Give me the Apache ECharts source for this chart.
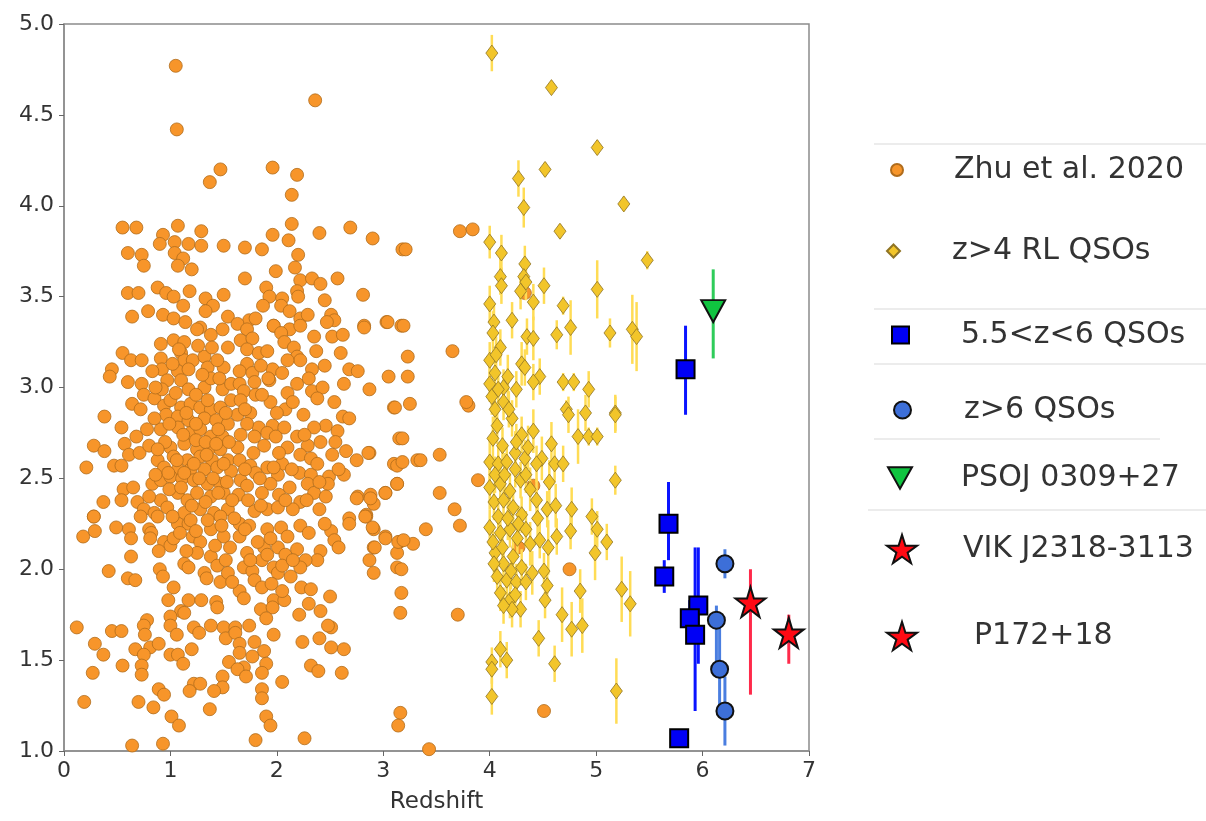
<!DOCTYPE html>
<html lang="en">
<head>
    <meta charset="UTF-8">
    <title>Redshift scatter</title>
    <script src="https://cdn.jsdelivr.net/npm/echarts@6.0.0/dist/echarts.min.js"></script>
    <style>
        html, body { margin: 0; padding: 0; background: #fff; }
        #main { width: 1206px; height: 821px; }
    </style>
</head>
<body>
<div id="main"></div>
<script>
// Zhu et al. 2020 sample: [redshift, value]
var zhuPoints = [
    [1.05,4.77],[1.06,4.42],[2.36,4.58],
    [1.47,4.20],[1.37,4.13],[0.55,3.88],[0.68,3.88],[1.07,3.89],[1.29,3.86],[0.93,3.84],[0.90,3.79],[1.04,3.80],[1.17,3.79],[1.29,3.78],[1.50,3.78],
    [0.60,3.74],[0.73,3.73],[1.04,3.74],[1.12,3.71],[0.75,3.67],[1.07,3.67],[1.20,3.65],[0.60,3.52],[0.70,3.52],[0.88,3.55],[0.96,3.52],[1.03,3.50],
    [1.18,3.53],[1.33,3.49],[1.40,3.45],[1.50,3.51],[1.12,3.45],[1.33,3.42],[0.64,3.39],[0.79,3.42],[0.93,3.40],[1.03,3.38],[1.14,3.36],[1.28,3.33],[1.54,3.39],
    [1.96,4.21],[2.19,4.17],[2.14,4.06],[2.14,3.90],[1.96,3.84],[2.40,3.85],[2.69,3.88],[2.90,3.82],[2.11,3.81],[1.70,3.77],[1.86,3.76],[3.18,3.76],
    [2.20,3.73],[2.17,3.66],[1.99,3.64],[1.70,3.60],[2.22,3.59],[2.33,3.60],[2.41,3.57],[2.57,3.60],[1.90,3.55],[1.93,3.50],[2.05,3.49],[2.19,3.53],
    [2.20,3.50],[2.45,3.48],[2.81,3.51],[1.87,3.45],[2.04,3.45],[1.74,3.37],[1.97,3.34],[2.22,3.38],[2.29,3.40],[2.51,3.40],[2.54,3.37],[2.82,3.34],
    [3.03,3.36],[3.17,3.34],[1.63,3.35],
    [0.55,3.19],[0.63,3.15],[0.73,3.15],[0.45,3.10],[0.43,3.06],[0.60,3.03],[0.73,3.02],[0.91,3.24],[1.03,3.26],[1.13,3.25],[1.25,3.32],[1.38,3.29],
    [1.49,3.32],[0.91,3.16],[1.10,3.19],[1.13,3.15],[1.21,3.15],[1.32,3.17],[1.39,3.22],[1.54,3.22],[0.92,3.10],[1.07,3.09],[1.17,3.10],[1.35,3.11],
    [1.50,3.11],[0.97,3.04],[1.10,3.04],[1.17,2.99],[1.32,3.00],[1.38,3.05],[1.49,2.99],[1.57,3.02],[0.75,2.96],[0.64,2.91],[0.72,2.88],[0.85,2.94],
    [0.92,2.99],[0.94,2.90],[1.00,2.93],[1.10,2.89],[1.19,2.91],[1.28,2.89],[1.38,2.88],[1.47,2.89],[1.57,2.93],[0.38,2.84],[0.54,2.78],[0.96,2.85],
    [1.07,2.84],[1.17,2.82],[1.32,2.83],[1.43,2.82],[1.54,2.80],[0.91,2.77],[1.07,2.78],[1.19,2.75],[1.28,2.77],[1.38,2.73],[1.49,2.73],[0.68,2.73],
    [0.28,2.68],[0.38,2.65],[0.57,2.69],[0.61,2.63],[0.71,2.64],[0.80,2.68],[0.88,2.60],[1.00,2.67],[1.13,2.69],[1.25,2.66],[1.38,2.67],[1.47,2.66],
    [1.03,2.62],[1.16,2.60],[1.28,2.62],[1.39,2.60],[1.54,2.60],[0.21,2.56],[0.47,2.57],[0.54,2.57],[0.94,2.56],[1.07,2.55],[1.19,2.55],[1.32,2.55],
    [1.44,2.56],[1.57,2.54],[0.83,2.47],[0.91,2.49],[1.00,2.51],[1.11,2.50],[1.22,2.49],[1.35,2.47],[1.47,2.47],[0.56,2.44],[0.65,2.45],[0.37,2.37],
    [0.54,2.38],[0.69,2.37],[0.75,2.33],[0.28,2.29],[0.91,2.38],[0.97,2.34],[1.07,2.42],[1.16,2.38],[1.25,2.42],[1.38,2.40],[1.50,2.42],[0.85,2.31],
    [1.13,2.31],[1.28,2.33],[1.41,2.31],[1.54,2.33],
    [1.97,3.34],[2.12,3.32],[2.22,3.34],[2.47,3.36],[2.82,3.33],[3.04,3.36],[1.72,3.32],[1.66,3.26],[1.77,3.27],[2.04,3.30],[2.07,3.25],[2.52,3.28],
    [2.62,3.29],[1.72,3.21],[1.83,3.19],[1.91,3.20],[2.16,3.22],[2.19,3.17],[2.22,3.15],[2.37,3.20],[2.60,3.19],[1.72,3.13],[1.65,3.09],[1.77,3.08],
    [1.96,3.10],[1.93,3.04],[2.33,3.10],[2.68,3.10],[2.76,3.09],[3.05,3.06],[1.65,3.02],[1.79,3.03],[2.19,3.02],[2.63,3.02],[1.69,2.98],[1.80,2.96],
    [2.10,2.97],[2.33,2.98],[2.43,3.00],[2.38,2.94],[2.54,2.92],[2.87,2.99],[1.94,2.92],[1.66,2.93],[2.08,2.88],[3.10,2.89],[1.63,2.85],[1.75,2.86],
    [1.83,2.78],[1.96,2.79],[2.07,2.78],[2.62,2.84],[2.68,2.83],[2.46,2.79],[1.72,2.80],[1.66,2.74],[1.79,2.73],[1.91,2.75],[1.99,2.73],[2.19,2.73],
    [2.29,2.68],[2.41,2.70],[2.57,2.76],[2.55,2.70],[3.15,2.72],[2.10,2.67],[1.63,2.67],[1.65,2.60],[1.75,2.57],[1.91,2.56],[2.05,2.58],[2.22,2.63],
    [2.32,2.61],[2.52,2.63],[2.87,2.64],[3.10,2.58],[1.80,2.53],[2.01,2.52],[2.21,2.53],[2.32,2.52],[2.49,2.51],[2.63,2.52],[1.66,2.49],[1.94,2.47],
    [2.29,2.47],[2.48,2.47],[1.72,2.46],[3.13,2.47],[1.64,2.41],[1.86,2.42],[2.02,2.41],[2.22,2.37],[2.35,2.42],[2.76,2.40],[2.88,2.41],[2.91,2.36],
    [3.02,2.42],[1.79,2.32],[1.91,2.33],[2.01,2.34],[2.15,2.33],[2.40,2.33],[2.68,2.28],[2.84,2.30],
    [0.28,2.29],[0.18,2.18],[0.29,2.21],[0.49,2.23],[0.61,2.22],[0.63,2.17],[0.72,2.29],[0.80,2.22],[0.82,2.20],[0.81,2.17],[0.88,2.29],[0.94,2.15],
    [1.00,2.13],[1.07,2.25],[1.17,2.25],[1.21,2.18],[1.28,2.15],[1.38,2.22],[1.47,2.29],[1.50,2.18],[1.03,2.17],[0.63,2.07],[0.42,1.99],[0.60,1.95],
    [0.67,1.94],[0.90,2.00],[0.93,1.96],[1.03,1.90],[0.98,1.83],[1.13,2.03],[1.17,2.01],[1.32,1.98],[1.38,2.07],[1.44,2.02],[1.47,1.93],[1.54,1.98],
    [1.25,2.09],[1.17,1.83],[1.29,1.83],[1.43,1.82],[1.44,1.79],[1.10,1.77],[1.13,1.76],[1.00,1.74],[1.00,1.69],[0.78,1.72],[0.75,1.69],[0.76,1.64],
    [0.12,1.68],[0.45,1.66],[0.54,1.66],[1.06,1.64],[1.22,1.68],[1.27,1.65],[1.38,1.69],[1.50,1.68],[1.52,1.62],[0.29,1.59],[0.37,1.53],[0.67,1.56],
    [0.81,1.57],[0.89,1.59],[0.75,1.53],[0.73,1.47],[0.55,1.47],[0.27,1.43],[0.73,1.42],[1.00,1.53],[1.07,1.53],[1.12,1.48],[1.20,1.56],[1.55,1.49],
    [1.49,1.41],[1.49,1.35],[1.41,1.33],[1.22,1.37],[1.28,1.37],[1.18,1.33],[0.89,1.34],[0.94,1.31],[0.70,1.27],[0.84,1.24],[0.19,1.27],[1.37,1.23],
    [1.01,1.19],[1.08,1.14],[0.64,1.03],[0.93,1.04],
    [2.68,2.25],[2.84,2.29],[2.51,2.21],[2.54,2.16],[2.58,2.12],[2.91,2.22],[3.02,2.18],[3.15,2.15],[2.91,2.12],[2.87,2.05],[2.91,1.98],[3.13,2.09],
    [3.13,2.01],[3.17,1.87],[3.16,1.76],[1.65,2.25],[1.74,2.24],[1.65,2.18],[1.91,2.22],[2.04,2.23],[2.22,2.24],[1.88,2.12],[2.01,2.12],[2.08,2.08],
    [2.19,2.11],[2.41,2.10],[2.38,2.05],[2.27,2.05],[2.22,2.01],[1.72,2.09],[1.86,2.05],[1.97,2.01],[2.01,1.98],[2.13,1.96],[1.69,2.01],[1.77,1.99],
    [1.79,1.94],[1.86,1.90],[1.65,1.88],[1.69,1.84],[2.23,1.90],[2.32,1.89],[2.50,1.85],[1.97,1.83],[2.07,1.83],[1.85,1.78],[1.96,1.79],[1.90,1.73],
    [2.30,1.81],[2.41,1.77],[2.21,1.75],[1.74,1.69],[1.61,1.68],[2.51,1.68],[2.48,1.69],[1.97,1.64],[1.61,1.65],[1.65,1.59],[1.79,1.60],[1.88,1.55],
    [1.65,1.54],[1.77,1.52],[1.90,1.48],[1.69,1.46],[1.63,1.45],[1.71,1.41],[1.86,1.43],[2.24,1.60],[2.40,1.62],[2.51,1.57],[2.63,1.56],[2.32,1.47],
    [2.39,1.44],[2.61,1.43],[2.05,1.38],[1.86,1.34],[1.86,1.29],[1.90,1.19],[1.94,1.14],[1.80,1.06],[2.26,1.07],[3.16,1.21],[3.14,1.14],
    [3.11,2.89],[3.25,2.91],[2.86,2.64],[3.02,2.42],[3.13,2.57],[3.13,2.47],[3.32,2.60],[3.28,2.14],[3.14,2.15],[3.17,2.00],[3.02,2.17],[2.92,2.12],
    [2.90,2.23],[2.83,2.29],[2.75,2.39],[2.88,2.39],
    [3.18,2.72],[3.35,2.60],[3.53,2.63],[3.18,2.59],[3.89,2.49],[3.53,2.42],[3.67,2.33],[3.72,2.24],[3.40,2.22],[3.19,2.16],[3.70,1.75],[4.75,2.00],
    [4.27,2.12],[4.41,2.46],[4.51,1.22],[3.43,1.01],[3.80,2.90],
    [3.72,3.86],[3.84,3.87],[3.21,3.76],[3.19,3.34],[3.65,3.20],[3.23,3.17],[3.23,3.06],[3.78,2.92],[4.33,3.52],
    // overlapping points in the dense core
    [1.02,3.13],[1.08,3.21],[1.26,3.23],[1.30,3.07],[1.44,3.15],[1.46,3.05],[1.24,2.96],[1.05,2.97],[0.83,3.09],[0.86,3.00],[1.15,2.86],[1.24,2.80],
    [1.35,2.93],[1.52,2.86],[1.45,2.77],[0.99,2.80],[0.85,2.83],[0.78,2.77],[1.12,2.74],[1.24,2.71],[1.33,2.70],[1.43,2.69],[1.55,2.70],[0.95,2.70],
    [0.88,2.66],[1.06,2.60],[1.22,2.58],[1.34,2.63],[1.50,2.58],[0.98,2.53],[1.13,2.53],[1.27,2.50],[1.40,2.50],[1.53,2.48],[0.86,2.52],[0.80,2.40],
    [0.99,2.44],[1.10,2.45],[1.20,2.35],[1.33,2.37],[1.45,2.42],[1.58,2.38],[1.02,2.29],[1.19,2.27],[1.35,2.27],[1.48,2.24],[1.60,2.28],[1.09,2.20],
    [1.24,2.21],[1.42,2.13],[1.56,2.12],[1.15,2.10],[0.89,2.10],[1.34,1.95],[1.58,1.93],[1.52,2.05],
    [1.70,2.88],[1.86,2.96],[2.00,2.86],[2.15,2.92],[2.25,2.85],[2.35,2.78],[1.78,2.64],[1.88,2.68],[2.02,2.64],[2.14,2.55],[2.26,2.74],[2.38,2.58],
    [1.70,2.55],[1.84,2.50],[1.97,2.56],[2.12,2.45],[2.40,2.48],[1.73,2.38],[1.85,2.35],[2.08,2.38],[2.28,2.38],[2.46,2.40],[1.70,2.22],[1.82,2.15],
    [1.94,2.17],[2.10,2.18],[2.30,2.20],[2.45,2.25],[1.75,2.05],[1.91,2.08],[2.05,2.02],[2.15,2.05],[1.95,1.92],[2.05,1.88],[1.92,3.05],[2.05,3.08],
    [2.30,3.05],[2.45,3.12],[1.85,3.12],[2.10,3.15],[1.80,3.38],[2.12,3.42],[2.35,3.28],[2.65,2.65],[2.58,2.55],[2.75,2.60]
];

// z>4 radio-loud QSOs: [redshift, value, error]
var rlPoints = [
    [4.02,4.84,0.10],[4.58,4.65,0.03],[5.01,4.32,0.04],[4.52,4.20,0.04],[4.27,4.15,0.10],[4.32,3.99,0.11],[5.26,4.01,0.04],[4.66,3.86,0.04],
    [4.00,3.80,0.09],[4.11,3.74,0.10],[4.33,3.68,0.10],[5.48,3.70,0.05],[4.10,3.61,0.10],[4.11,3.56,0.10],[4.32,3.61,0.10],[4.34,3.58,0.10],
    [4.29,3.53,0.10],[4.51,3.56,0.10],[4.41,3.47,0.10],[5.01,3.54,0.16],[4.00,3.46,0.10],[4.69,3.45,0.05],[4.04,3.36,0.10],[4.21,3.37,0.10],
    [4.76,3.33,0.15],[4.63,3.29,0.08],[5.13,3.30,0.08],[5.34,3.32,0.19],[5.38,3.28,0.19],[4.35,3.28,0.10],[4.41,3.27,0.12],[4.03,3.30,0.12],
    [4.10,3.22,0.10],[4.00,3.15,0.10],[4.30,3.13,0.12],[4.33,3.11,0.10],[4.05,3.08,0.10],[4.47,3.06,0.10],[4.69,3.03,0.05],[4.79,3.03,0.05],
    [4.93,2.99,0.10],[4.25,2.99,0.10],[4.41,3.03,0.10],[4.00,3.02,0.10],[4.13,3.00,0.10],[4.02,2.95,0.10],[4.13,2.92,0.10],[4.05,2.88,0.10],
    [4.72,2.88,0.05],[5.18,2.86,0.10],
    [4.07,2.79,0.10],[4.21,2.83,0.10],[4.41,2.76,0.12],[4.30,2.74,0.10],[4.58,2.69,0.12],[4.74,2.85,0.10],[4.90,2.86,0.10],[5.18,2.85,0.10],
    [4.83,2.73,0.15],[4.93,2.73,0.05],[5.01,2.73,0.05],[4.49,2.61,0.12],[4.61,2.58,0.10],[4.69,2.58,0.10],[4.00,2.59,0.12],[4.08,2.58,0.10],
    [4.16,2.59,0.10],[4.24,2.64,0.12],[4.33,2.61,0.10],[5.18,2.49,0.08],[4.00,2.45,0.12],[4.10,2.47,0.10],[4.19,2.43,0.10],[4.29,2.49,0.10],
    [4.38,2.44,0.12],[4.44,2.38,0.12],[4.54,2.33,0.10],[4.04,2.37,0.10],[4.13,2.38,0.10],[4.22,2.34,0.10],[4.30,2.30,0.10],[4.77,2.33,0.12],
    [4.76,2.21,0.10],[4.96,2.29,0.10],[5.01,2.22,0.10],[4.00,2.23,0.10],[4.10,2.20,0.10],[4.19,2.22,0.10],[4.27,2.25,0.10],[4.38,2.14,0.12],
    [4.47,2.16,0.10],[4.55,2.12,0.15],[4.63,2.18,0.10],[5.10,2.15,0.10],[4.99,2.09,0.15],[4.05,2.09,0.10],[4.13,2.03,0.10],[4.22,2.07,0.10],
    [4.30,2.01,0.10],[4.51,1.99,0.10],[4.07,1.96,0.10],[4.16,1.94,0.10],[4.25,1.93,0.10],[4.54,1.91,0.10],[4.85,1.88,0.12],[5.24,1.89,0.18],
    [5.32,1.81,0.18],[4.10,1.87,0.10],[4.19,1.83,0.10],[4.29,1.78,0.10],[4.52,1.83,0.10],[4.68,1.75,0.15],[4.77,1.67,0.15],[4.87,1.69,0.15],
    [4.21,1.78,0.10],[4.46,1.62,0.10],[4.10,1.56,0.10],[4.02,1.49,0.08],[4.02,1.45,0.08],[4.16,1.50,0.10],[4.61,1.48,0.10],[4.02,1.30,0.10],
    [5.19,1.33,0.18],
    [4.06,3.18,0.10],[4.17,3.06,0.12],[4.08,2.99,0.10],[4.18,2.88,0.10],[4.03,2.72,0.12],[4.12,2.68,0.10],[4.25,2.70,0.10],[4.36,2.67,0.12],
    [4.05,2.52,0.10],[4.14,2.52,0.12],[4.24,2.55,0.10],[4.34,2.52,0.10],[4.08,2.29,0.10],[4.17,2.28,0.12],[4.26,2.17,0.10],[4.34,2.22,0.10],
    [4.03,2.15,0.10],[4.12,2.12,0.10],[4.20,1.99,0.10],[4.34,1.93,0.10],[4.04,2.03,0.10],[4.13,1.80,0.10],[4.24,1.86,0.10],[4.40,1.98,0.12],
    [4.45,2.28,0.10],[4.56,2.48,0.12],[4.62,2.35,0.12],[4.44,2.58,0.10]
];

// [redshift, value, error down, error up]
var midQsos = [
    [5.84,3.10,0.25,0.24],[5.68,2.25,0.20,0.23],[5.64,1.96,0.09,0.09],[5.96,1.80,0.32,0.32],
    [5.88,1.73,0.10,0.10],[5.93,1.64,0.42,0.48],[5.78,1.07,0.0,0.0]
];
var highQsos = [
    [6.21,2.03,0.08,0.08],[6.13,1.72,0.25,0.08],[6.16,1.45,0.25,0.25],[6.21,1.22,0.19,0.19]
];
var psojPoint = [[6.10,3.42,0.26,0.23]];
var vikPoint = [[6.45,1.82,0.51,0.18]];
var p172Point = [[6.81,1.65,0.17,0.10]];

var xTicks = [0, 1, 2, 3, 4, 5, 6, 7];
var yTicks = [1.0, 1.5, 2.0, 2.5, 3.0, 3.5, 4.0, 4.5, 5.0];

var starPath = 'path://M50,0 L61,35 L98,35 L68,57 L79,91 L50,70 L21,91 L32,57 L2,35 L39,35 Z';
var downTriPath = 'path://M0,0 L100,0 L50,90 Z';

function pts(arr) {
    return arr.map(function (d) { return [d[0], d[1]]; });
}
function bars(arr, symmetric) {
    return arr.map(function (d) {
        if (symmetric) return [d[0], d[1] - d[2], d[1] + d[2]];
        return [d[0], d[1] - d[2], d[1] + d[3]];
    });
}
function errSeries(data, color, width, z) {
    return {
        type: 'custom',
        z: z,
        silent: true,
        encode: { x: 0, y: [1, 2] },
        data: data,
        renderItem: function (params, api) {
            var a = api.coord([api.value(0), api.value(1)]);
            var b = api.coord([api.value(0), api.value(2)]);
            return {
                type: 'line',
                shape: { x1: a[0], y1: a[1], x2: b[0], y2: b[1] },
                style: { stroke: color, lineWidth: width }
            };
        }
    };
}

var myChart = echarts.init(document.getElementById('main'), null, { renderer: 'canvas' });

var legendFont = { fontFamily: 'DejaVu Sans', fontSize: 30, color: '#333' };
function legendAt(name, iconLeft, centerY, size, textX, icon) {
    var l = {
        data: [{ name: name }],
        left: iconLeft,
        top: centerY - 18,
        itemWidth: size,
        itemHeight: size,
        selectedMode: false,
        padding: 0,
        textStyle: Object.assign({ padding: [0, 0, 0, textX - (iconLeft + size + 5)], lineHeight: 36 }, legendFont)
    };
    if (icon) l.icon = icon;
    return l;
}

var option = {
    animation: false,
    backgroundColor: '#fff',
    grid: {
        left: 64, right: 397, top: 24, bottom: 70,
        show: true, borderColor: '#8c8c8c', borderWidth: 1.5, backgroundColor: '#fff'
    },
    xAxis: {
        type: 'value', min: 0, max: 7, interval: 1,
        name: 'Redshift', nameLocation: 'middle', nameGap: 40,
        nameTextStyle: { fontFamily: 'DejaVu Sans', fontSize: 23, color: '#333' },
        axisLine: { show: true, lineStyle: { color: '#8c8c8c', width: 1.5 } },
        axisTick: { show: true, length: 5, lineStyle: { color: '#666' } },
        axisLabel: { fontFamily: 'DejaVu Sans', fontSize: 22, color: '#333', margin: 9 },
        splitLine: { show: false }
    },
    yAxis: {
        type: 'value', min: 1, max: 5, interval: 0.5,
        axisLine: { show: true, lineStyle: { color: '#8c8c8c', width: 1.5 } },
        axisTick: { show: true, length: 5, lineStyle: { color: '#666' } },
        axisLabel: {
            fontFamily: 'DejaVu Sans', fontSize: 22, color: '#333', margin: 10,
            formatter: function (v) { return v.toFixed(1); }
        },
        splitLine: { show: false }
    },
    legend: [
        legendAt('Zhu et al. 2020', 890, 170, 12, 953, 'circle'),
        legendAt('z>4 RL QSOs', 886, 251, 13, 951, 'diamond'),
        legendAt('5.5<z<6 QSOs', 891, 335, 17, 960),
        legendAt('z>6 QSOs', 893, 410, 17, 963, 'circle'),
        legendAt('PSOJ 0309+27', 887, 478, 24, 960, downTriPath),
        legendAt('VIK J2318-3113', 886, 549, 30, 962, starPath),
        legendAt('P172+18', 886, 636, 30, 973, starPath)
    ],
    graphic: [
        { type: 'line', shape: { x1: 874, y1: 144, x2: 1206, y2: 144 }, style: { stroke: '#ececec', lineWidth: 2 } },
        { type: 'line', shape: { x1: 874, y1: 309, x2: 1206, y2: 309 }, style: { stroke: '#ececec', lineWidth: 2 } },
        { type: 'line', shape: { x1: 874, y1: 364, x2: 1206, y2: 364 }, style: { stroke: '#ececec', lineWidth: 2 } },
        { type: 'line', shape: { x1: 874, y1: 439, x2: 1160, y2: 439 }, style: { stroke: '#ececec', lineWidth: 2 } },
        { type: 'line', shape: { x1: 868, y1: 510, x2: 1206, y2: 510 }, style: { stroke: '#ececec', lineWidth: 2 } }
    ],
    series: [
        {
            name: 'Zhu et al. 2020', type: 'scatter', z: 2,
            symbol: 'circle', symbolSize: 13,
            itemStyle: { color: '#f7952a', borderColor: '#b06c1c', borderWidth: 0.8, opacity: 1 },
            data: zhuPoints
        },
        errSeries(bars(rlPoints, true), '#ffdc55', 2.5, 3),
        {
            name: 'z>4 RL QSOs', type: 'scatter', z: 4,
            symbol: 'diamond', symbolSize: [12, 16],
            itemStyle: { color: '#f2c52a', borderColor: '#8f7424', borderWidth: 0.8, opacity: 1 },
            data: pts(rlPoints)
        },
        errSeries(bars(midQsos), '#0a14ff', 3, 5),
        {
            name: '5.5<z<6 QSOs', type: 'scatter', z: 6,
            symbol: 'rect', symbolSize: 18,
            itemStyle: { color: '#0000f5', borderColor: '#000', borderWidth: 2, opacity: 1 },
            data: pts(midQsos)
        },
        errSeries(bars(highQsos), '#4a7ee0', 3, 5),
        {
            name: 'z>6 QSOs', type: 'scatter', z: 6,
            symbol: 'circle', symbolSize: 17,
            itemStyle: { color: '#3d6fd8', borderColor: '#111', borderWidth: 2, opacity: 1 },
            data: pts(highQsos)
        },
        errSeries(bars(psojPoint), '#2fcc5a', 3, 5),
        {
            name: 'PSOJ 0309+27', type: 'scatter', z: 6,
            symbol: downTriPath, symbolSize: [24, 22],
            itemStyle: { color: '#10c440', borderColor: '#111', borderWidth: 2, opacity: 1 },
            data: pts(psojPoint)
        },
        errSeries(bars(vikPoint), '#ff2a4a', 3, 5),
        {
            name: 'VIK J2318-3113', type: 'scatter', z: 6,
            symbol: starPath, symbolSize: 30,
            itemStyle: { color: '#ff0a14', borderColor: '#111', borderWidth: 2, opacity: 1 },
            data: pts(vikPoint)
        },
        errSeries(bars(p172Point), '#ff2a4a', 3, 5),
        {
            name: 'P172+18', type: 'scatter', z: 6,
            symbol: starPath, symbolSize: 30,
            itemStyle: { color: '#ff0a14', borderColor: '#111', borderWidth: 2, opacity: 1 },
            data: pts(p172Point)
        }
    ]
};

myChart.setOption(option);
</script>
</body>
</html>
